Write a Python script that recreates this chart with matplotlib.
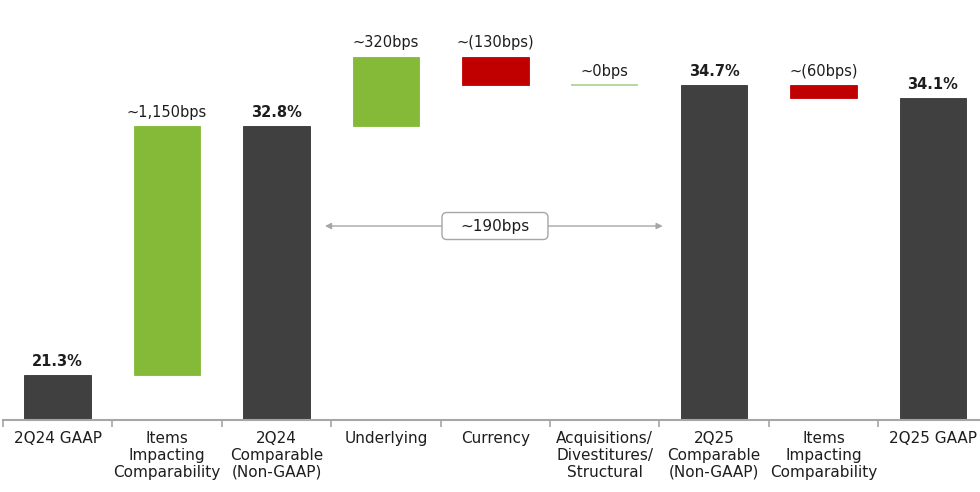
import matplotlib
matplotlib.use("Agg")
import matplotlib.pyplot as plt
from matplotlib.patches import FancyBboxPatch
import numpy as np

categories = ["2Q24 GAAP", "Items\nImpacting\nComparability", "2Q24\nComparable\n(Non-GAAP)",
              "Underlying", "Currency", "Acquisitions/\nDivestitures/\nStructural",
              "2Q25\nComparable\n(Non-GAAP)", "Items\nImpacting\nComparability", "2Q25 GAAP"]
changes = [21.3, 11.5, None, 3.2, -1.3, 0.0, None, -0.6, None]  # None = total bar
labels = ["21.3%", "~1,150bps", "32.8%", "~320bps", "~(130bps)", "~0bps", "34.7%", "~(60bps)", "34.1%"]
bracket_label = "~190bps"

DARK = "#404040"
GREEN = "#84ba37"
RED = "#c00000"
ZERO = "#a9d18e"
GRAY = "#a6a6a6"
TXT = "#1e1e1e"

plt.rcParams['font.family'] = ['DejaVu Sans']

fig = plt.figure(figsize=(9.8, 4.92), dpi=100)
ax = fig.add_axes([3/980, 72/492, 977/980, 420/492])
ybase = 19.22
ppu_y = 21.65
ppu_x = 109.4
ax.set_ylim(ybase, ybase + 420/ppu_y)
ax.set_xlim(-0.5, -0.5 + 977/ppu_x)

w = 0.61
running = 0.0
for i, (c, lab) in enumerate(zip(changes, labels)):
    if i == 0:
        bottom, top, color = ybase, c, DARK
        running = c
        bold = True
    elif c is None:
        bottom, top, color = ybase, running, DARK
        bold = True
    else:
        new = running + c
        bottom, top = min(running, new), max(running, new)
        color = GREEN if c > 0 else RED
        running = new
        bold = False
    if c == 0.0 and i != 0:
        ax.plot([i - w/2, i + w/2], [top, top], color=ZERO, lw=1.2, solid_capstyle='butt')
    else:
        ax.bar(i, top - bottom, bottom=bottom, width=w, color=color,
               edgecolor=color if color != DARK else "#333333", linewidth=0.6)
    ax.annotate(lab, (i, top), xytext=(0, 4.5), textcoords="offset points",
                ha="center", va="bottom", fontsize=10.5,
                fontweight="bold" if bold else "normal", color=TXT)

# bracket arrow between comparables
yarr = 28.18
ax.annotate("", xy=(2.443, yarr), xytext=(5.53, yarr),
            arrowprops=dict(arrowstyle="<|-|>", color=GRAY, lw=1.0, mutation_scale=9,
                            shrinkA=0, shrinkB=0))
bw, bh = 106/ppu_x, 27/ppu_y
bx = 3.997
box = FancyBboxPatch((bx - bw/2, yarr - bh/2), bw, bh,
                     boxstyle="round,pad=0,rounding_size=0.045",
                     mutation_aspect=ppu_x/ppu_y, fc="white", ec=GRAY, lw=1.0, zorder=3)
ax.add_patch(box)
ax.text(bx, yarr, bracket_label, ha="center", va="center", fontsize=11, color=TXT, zorder=4)

for s in ["top", "right", "left"]:
    ax.spines[s].set_visible(False)
ax.spines["bottom"].set_color(GRAY)
ax.spines["bottom"].set_linewidth(1.5)
ax.set_yticks([])
ax.set_xticks(range(len(categories)))
ax.set_xticklabels(categories, fontsize=11, color=TXT, linespacing=1.15)
ax.tick_params(axis="x", which="major", length=0, pad=8)
ax.set_xticks(np.arange(-0.5, len(categories) - 0.5, 1.0), minor=True)
ax.tick_params(axis="x", which="minor", length=5, color=GRAY, width=1.2)

fig.savefig("out.png", dpi=100)
